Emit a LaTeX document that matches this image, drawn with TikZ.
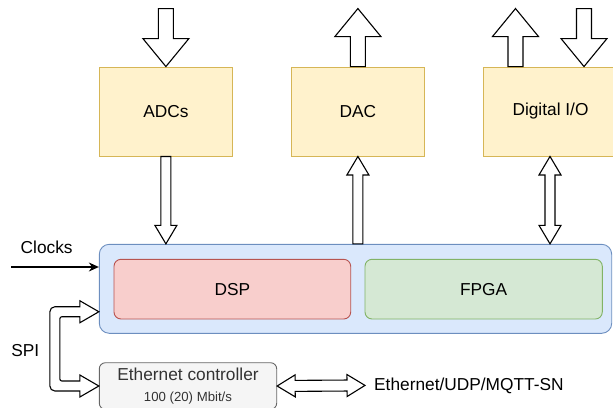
\documentclass[tikz,border=0pt]{standalone}
\usepackage{fontspec}
\setmainfont{Liberation Sans}
\usetikzlibrary{calc,arrows.meta}

\definecolor{ioFill}{HTML}{FFF2CC}
\definecolor{ioLine}{HTML}{D6B656}
\definecolor{sysFill}{HTML}{DAE8FC}
\definecolor{sysLine}{HTML}{6C8EBF}
\definecolor{dspFill}{HTML}{F8CECC}
\definecolor{dspLine}{HTML}{B85450}
\definecolor{fpgaFill}{HTML}{D5E8D4}
\definecolor{fpgaLine}{HTML}{82B366}
\definecolor{ethFill}{HTML}{F5F5F5}
\definecolor{ethLine}{HTML}{666666}
\definecolor{ethText}{HTML}{333333}

\tikzset{
  every node/.style={font=\fontsize{17.3}{20.4}\selectfont},
  iobox/.style={draw=ioLine,fill=ioFill,line width=0.9pt,minimum width=133pt,minimum height=89pt},
  fat/.style={draw=black,fill=white,line width=1.1pt,line join=miter},
  thin arrow/.style={line width=1.2pt,-{Stealth[length=10pt,width=9pt]}}
}

% fat arrow: tail, tip, shaft half width, head half width, head length
\newcommand{\fatarrow}[5]{%
  \coordinate (fh) at ($(#2)!#5!(#1)$);
  \draw[fat] ($(#1)!#3!90:(#2)$) -- ($(fh)!#3!90:(#2)$) -- ($(fh)!#4!90:(#2)$) -- (#2)
    -- ($(fh)!#4!-90:(#2)$) -- ($(fh)!#3!-90:(#2)$) -- ($(#1)!#3!-90:(#2)$) -- cycle;}
% fat arrow with two heads
\newcommand{\fatdouble}[5]{%
  \coordinate (fha) at ($(#1)!#5!(#2)$);
  \coordinate (fhb) at ($(#2)!#5!(#1)$);
  \draw[fat] (#1) -- ($(fha)!#4!90:(#2)$) -- ($(fha)!#3!90:(#2)$) -- ($(fhb)!#3!90:(#2)$)
    -- ($(fhb)!#4!90:(#2)$) -- (#2) -- ($(fhb)!#4!-90:(#2)$) -- ($(fhb)!#3!-90:(#2)$)
    -- ($(fha)!#3!-90:(#2)$) -- ($(fha)!#4!-90:(#2)$) -- cycle;}

\begin{document}
\begin{tikzpicture}[x=1pt,y=-1pt]
  \useasboundingbox (0,0) rectangle (613,407);

  % converters and I/O
  \node[iobox] (adc) at (165.9,111.5) {ADCs};
  \node[iobox] (dac) at (357.9,111.5) {DAC};
  \node[iobox,minimum width=135pt] (dio) at (550.5,111.5) {Digital I/O};

  % processing board
  \node[draw=sysLine,fill=sysFill,line width=0.9pt,rounded corners=10pt,
        minimum width=512.4pt,minimum height=89pt] (sys) at (355.5,288.8) {};
  \node[draw=dspLine,fill=dspFill,line width=0.9pt,rounded corners=7pt,
        minimum width=236.7pt,minimum height=59.7pt] (dsp) at (232.35,289.15) {DSP};
  \node[draw=fpgaLine,fill=fpgaFill,line width=0.9pt,rounded corners=7pt,
        minimum width=237.3pt,minimum height=59.7pt] (fpga) at (483.65,289.15) {FPGA};

  % network
  \node[draw=ethLine,fill=ethFill,line width=0.9pt,rounded corners=6pt,text=ethText,
        minimum width=177.4pt,minimum height=46.5pt,align=center,inner sep=0pt] (eth) at (188,386)
        {Ethernet controller\\{\fontsize{13.2}{20.4}\selectfont 100 (20) Mbit/s}};
  \node[anchor=west,inner sep=0pt] (net) at (374,385.4) {Ethernet/UDP/MQTT-SN};

  \node (clk) at (46.7,247.3) {Clocks};
  \node (spi) at (25.3,350.7) {SPI};

  % outside world
  \coordinate (adcin) at ($(adc.north)+(0,-58)$);
  \coordinate (dacout) at ($(dac.north)+(0,-58)$);
  \coordinate (dioouts) at ($(dio.north)+(-35,0)$);
  \coordinate (dioout) at ($(dioouts)+(0,-58)$);
  \coordinate (dioine) at ($(dio.north)+(33.5,0)$);
  \coordinate (dioin) at ($(dioine)+(0,-58)$);
  \fatarrow{adcin}{adc.north}{7.5pt}{23pt}{28pt}
  \fatarrow{dac.north}{dacout}{7.5pt}{23pt}{28pt}
  \fatarrow{dioouts}{dioout}{7.5pt}{23pt}{28pt}
  \fatarrow{dioin}{dioine}{7.5pt}{23pt}{28pt}

  % board links
  \coordinate (adcsys) at (adc.south |- sys.north);
  \coordinate (dacsys) at (dac.south |- sys.north);
  \coordinate (diosys) at ($(dio.south |- sys.north)+(-0.5,0)$);
  \coordinate (diobot) at ($(dio.south)+(-0.5,0)$);
  \fatarrow{adc.south}{adcsys}{5pt}{11pt}{18.5pt}
  \fatarrow{dacsys}{dac.south}{5pt}{11pt}{18.5pt}
  \fatdouble{diosys}{diobot}{5pt}{11pt}{18.5pt}

  \coordinate (netend) at ($(net.west)+(-9,0)$);
  \fatdouble{eth.east}{netend}{5.5pt}{11pt}{18pt}

  \coordinate (clkin) at (11,267);
  \draw[thin arrow] (clkin) -- (clkin -| sys.west);

  % SPI bus
  \coordinate (spia) at ($(sys.south west)+(0,-22)$);
  \draw[fat] (spia) -- ($(spia)+(-19,-11)$) -- ($(spia)+(-19,-5)$)
    [rounded corners=5pt] -- ($(spia)+(-49,-5)$) -- ($(eth.west)+(-49,5)$) [sharp corners]
    -- ($(eth.west)+(-19,5)$) -- ($(eth.west)+(-19,11)$) -- (eth.west)
    -- ($(eth.west)+(-19,-11)$) -- ($(eth.west)+(-19,-5)$)
    [rounded corners=2pt] -- ($(eth.west)+(-39,-5)$) -- ($(spia)+(-39,5)$) [sharp corners]
    -- ($(spia)+(-19,5)$) -- ($(spia)+(-19,11)$) -- cycle;
\end{tikzpicture}
\end{document}
